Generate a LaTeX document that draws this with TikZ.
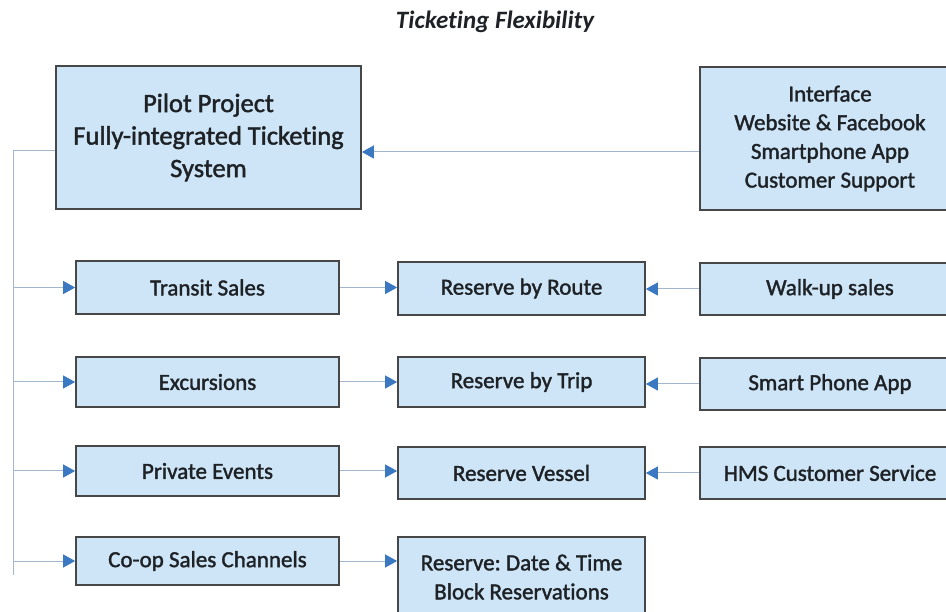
\documentclass[tikz,border=0pt]{standalone}
\usepackage{fontspec}
\setmainfont{Carlito}[Ligatures=NoCommon, FakeBold=1.6]
\newfontfamily\titlefont{Carlito}[Ligatures=NoCommon]
\frenchspacing
\usetikzlibrary{arrows.meta}
\definecolor{boxfill}{HTML}{CDE5F6}
\definecolor{boxline}{HTML}{474747}
\definecolor{linkline}{HTML}{A3B6CC}
\definecolor{tipblue}{HTML}{3A78C2}
\definecolor{inkdark}{HTML}{1E2226}
\tikzset{
  box/.style={draw=boxline, fill=boxfill, line width=1.7pt, inner sep=0pt,
    align=center, text=inkdark},
  rowtext/.style={font=\fontsize{23}{29}\selectfont},
  link/.style={draw=linkline, line width=1pt},
  flow/.style={link, -{Triangle[length=12pt,width=13pt,color=tipblue]}},
}
\begin{document}
\begin{tikzpicture}[x=1pt, y=-1pt]
\useasboundingbox (0,0) rectangle (946,612);

% heading
\node[text=inkdark, font=\titlefont\fontsize{25}{28}\selectfont\bfseries\itshape]
  (title) at (495,22) {Ticketing Flexibility};

% top row
\node[box, minimum width=305pt, minimum height=143pt,
      font=\fontsize{26.5}{32.5}\selectfont]
  (pilot) at (208.5,137.5) {Pilot Project\\Fully-integrated Ticketing\\System};
\node[box, minimum width=260pt, minimum height=143pt,
      font=\fontsize{23}{28.7}\selectfont]
  (iface) at (830,138.5) {Interface\\Website \& Facebook\\Smartphone App\\Customer Support};

% left column: sales channels
\node[box, rowtext, minimum width=263pt, minimum height=53pt] (transit) at (207.5,287.5) {Transit Sales};
\node[box, rowtext, minimum width=263pt, minimum height=50pt] (excur)   at (207.5,382)   {Excursions};
\node[box, rowtext, minimum width=263pt, minimum height=50pt] (private) at (207.5,471)   {Private Events};
\node[box, rowtext, minimum width=263pt, minimum height=48pt] (coop)    at (207.5,561)   {Co-op Sales Channels};

% middle column: reservation types
\node[box, rowtext, minimum width=247pt, minimum height=53pt] (route)  at (521.5,288.5) {Reserve by Route};
\node[box, rowtext, minimum width=247pt, minimum height=50pt] (trip)   at (521.5,382)   {Reserve by Trip};
\node[box, rowtext, minimum width=247pt, minimum height=52pt] (vessel) at (521.5,473)   {Reserve Vessel};
\node[box, rowtext, minimum width=247pt, minimum height=80pt] (block)  at (521.5,577)   {Reserve: Date \& Time\\Block Reservations};

% right column: sales points
\node[box, rowtext, minimum width=260pt, minimum height=52pt] (walkup) at (830,289) {Walk-up sales};
\node[box, rowtext, minimum width=260pt, minimum height=52pt] (phone)  at (830,384) {Smart Phone App};
\node[box, rowtext, minimum width=260pt, minimum height=52pt] (hms)    at (830,473) {HMS Customer Service};

% interface feeds the ticketing system
\draw[flow] (iface.west |- 0,152) -- (pilot.east |- 0,152);

% trunk on the left, branching to every sales channel
\coordinate (trunktop) at (13,151);
\coordinate (trunkbot) at (13,575);
\draw[link] (pilot.west |- trunktop) -- (trunktop) -- (trunkbot);
\draw[flow] (trunktop |- transit.west) -- (transit.west);
\draw[flow] (trunktop |- excur.west)   -- (excur.west);
\draw[flow] (trunktop |- private.west) -- (private.west);
\draw[flow] (trunktop |- coop.west)    -- (coop.west);

% channels to reservation types
\draw[flow] (transit.east) -- (route.west |- transit.east);
\draw[flow] (excur.east)   -- (trip.west |- excur.east);
\draw[flow] (private.east) -- (vessel.west |- private.east);
\draw[flow] (coop.east)    -- (block.west |- coop.east);

% sales points to reservation types
\draw[flow] (walkup.west) -- (route.east |- walkup.west);
\draw[flow] (phone.west)  -- (trip.east |- phone.west);
\draw[flow] (hms.west)    -- (vessel.east |- hms.west);
\end{tikzpicture}
\end{document}
